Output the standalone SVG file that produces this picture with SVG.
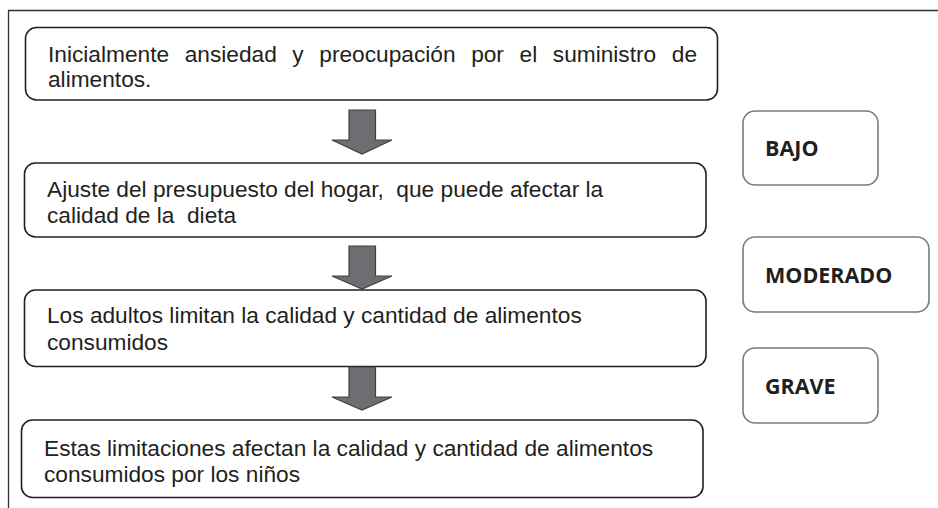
<svg xmlns="http://www.w3.org/2000/svg" width="938" height="508" viewBox="0 0 938 508">
  <defs>
    <style>
      .frame { fill: none; stroke: #333333; stroke-width: 1.3; }
      .step rect { fill: #ffffff; stroke: #231f20; stroke-width: 1.6; }
      .step text { font-family: "Liberation Sans", Arial, sans-serif; font-size: 22.7px; fill: #231f20; white-space: pre; }
      .level rect { fill: #ffffff; stroke: #7a7a7a; stroke-width: 1.6; }
      .level text { font-family: "Open Sans", "Liberation Sans", sans-serif; font-weight: bold; font-size: 21.5px; fill: #231f20; }
      .arrow { fill: #6d6e71; stroke: #414042; stroke-width: 1.2; stroke-linejoin: miter; }
    </style>
  </defs>
  <rect width="938" height="508" fill="#ffffff"/>
  <g id="frame">
    <path class="frame" d="M938 10.5 H8.5 V508"/>
  </g>

  <g id="step1" class="step">
    <rect x="25.5" y="27.5" width="692" height="72.5" rx="11"/>
    <text x="48" y="62" word-spacing="9.3">Inicialmente ansiedad y preocupación por el suministro de</text>
    <text x="48" y="87">alimentos.</text>
  </g>
  <g id="step2" class="step">
    <rect x="24.5" y="163" width="681.5" height="74" rx="11"/>
    <text x="47" y="197">Ajuste del presupuesto del hogar,  que puede afectar la</text>
    <text x="47" y="223">calidad de la  dieta</text>
  </g>
  <g id="step3" class="step">
    <rect x="24.5" y="290" width="681.5" height="76.5" rx="11"/>
    <text x="47" y="323">Los adultos limitan la calidad y cantidad de alimentos</text>
    <text x="47" y="350">consumidos</text>
  </g>
  <g id="step4" class="step">
    <rect x="21.5" y="420" width="681.5" height="77.5" rx="11"/>
    <text x="44" y="456">Estas limitaciones afectan la calidad y cantidad de alimentos</text>
    <text x="44" y="482">consumidos por los niños</text>
  </g>

  <g id="bajo" class="level">
    <rect x="743" y="111" width="135" height="74" rx="12"/>
    <text x="765" y="156">BAJO</text>
  </g>
  <g id="moderado" class="level">
    <rect x="743" y="237" width="186" height="75" rx="12"/>
    <text x="765" y="283">MODERADO</text>
  </g>
  <g id="grave" class="level">
    <rect x="743" y="348" width="135" height="75" rx="12"/>
    <text x="765" y="394">GRAVE</text>
  </g>

  <g id="connectors">
    <path class="arrow" d="M349 110 H375.5 V140 H392 L362 154 L332 140 H349 Z"/>
    <path class="arrow" d="M349 246 H375.5 V276 H392 L362 289 L332 276 H349 Z"/>
    <path class="arrow" d="M349 367 H375.5 V397 H392 L362 410 L332 397 H349 Z"/>
  </g>
</svg>
